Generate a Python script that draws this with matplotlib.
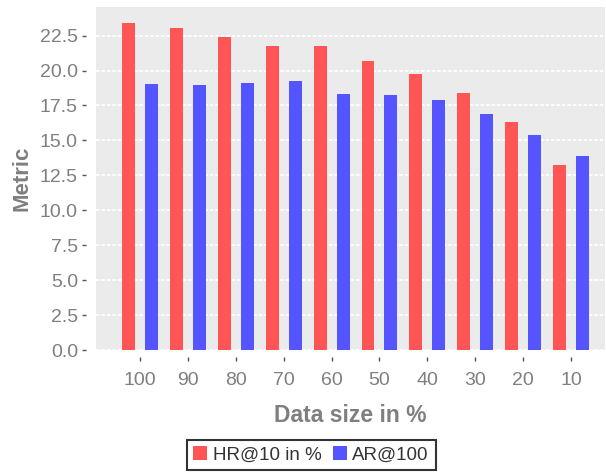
import matplotlib
matplotlib.use("Agg")
import matplotlib.pyplot as plt
import numpy as np

plt.rcParams['font.family'] = ['Liberation Sans', 'DejaVu Sans']

sizes = ['100', '90', '80', '70', '60', '50', '40', '30', '20', '10']
hr10 = [23.4, 23.05, 22.4, 21.76, 21.76, 20.69, 19.76, 18.4, 16.34, 13.26]
ar100 = [19.05, 18.98, 19.12, 19.26, 18.33, 18.26, 17.91, 16.9, 15.41, 13.91]

grey = '#7f7f7f'

fig = plt.figure(figsize=(6.06, 4.73), dpi=100)
ax = fig.add_axes([96/606, 123/473, 509/606, 343/473])
ax.set_facecolor('#ebebeb')

x = np.arange(len(sizes))
ax.bar(x - 0.24, hr10, width=0.27, color='#ff5555', label='HR@10 in %', zorder=3)
ax.bar(x + 0.24, ar100, width=0.27, color='#5555ff', label='AR@100', zorder=3)

ax.set_xlim(-0.92, 9.71)
ax.set_ylim(0, 24.55)
ax.set_yticks(np.arange(0, 22.6, 2.5))
ax.set_yticklabels(['%.1f' % v for v in np.arange(0, 22.6, 2.5)])
ax.set_xticks(x)
ax.set_xticklabels(sizes)

ax.yaxis.grid(True, color='white', linestyle=(0, (2, 1)), linewidth=1.3, zorder=0)
ax.set_axisbelow(True)

for s in ax.spines.values():
    s.set_visible(False)
ax.spines['left'].set_position(('outward', 7))
ax.spines['bottom'].set_position(('outward', 5))
ax.tick_params(axis='both', colors='#555555', labelcolor=grey, labelsize=14, length=3, width=1)
ax.tick_params(axis='x', pad=8)
ax.tick_params(axis='y', pad=3)

ax.set_xlabel('Data size in %', fontsize=16.5, fontweight='bold', color=grey, labelpad=11)
ax.set_ylabel('Metric', fontsize=16, fontweight='bold', color=grey, labelpad=5)

leg = fig.legend(loc='center', bbox_to_anchor=(311/606, 1 - 455/473), ncol=2,
                 frameon=True, fancybox=False, fontsize=13.5, handlelength=0.75,
                 handleheight=0.75, handletextpad=0.3, columnspacing=0.6,
                 borderpad=0.35, labelcolor='#333333')
leg.get_frame().set_edgecolor('black')
leg.get_frame().set_linewidth(1.5)

fig.savefig('out.png', dpi=100)
